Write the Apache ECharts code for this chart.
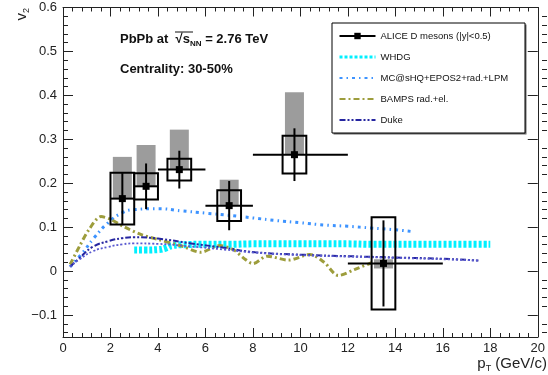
<!DOCTYPE html>
<html><head><meta charset="utf-8">
<script src="https://cdn.jsdelivr.net/npm/echarts@6/dist/echarts.min.js"></script>
<style>html,body{margin:0;padding:0;background:#fff}#c{width:548px;height:375px}</style>
</head><body><div id="c"></div>
<script>
// ---------- data ----------
const ptCenter = [2.5, 3.5, 4.9, 7.0, 9.75, 13.5];
const ptLow    = [2, 3, 4, 6, 8, 12];
const ptHigh   = [3, 4, 6, 8, 12, 16];
const v2       = [0.165, 0.193, 0.231, 0.149, 0.265, 0.0175];
const statErr  = [0.058, 0.052, 0.043, 0.056, 0.060, 0.098];
const sysErr   = [0.059, 0.030, 0.025, 0.035, 0.043, 0.105];
const feedLow  = [0.165, 0.193, 0.231, 0.149, 0.265, 0.006];
const feedHigh = [0.260, 0.287, 0.322, 0.208, 0.407, 0.027];

const whdgPt = [3.0, 3.5, 4.0, 4.3, 4.6, 5.0, 6, 7, 8, 9, 10, 11, 12, 13, 14, 15, 16, 17, 18];
const whdgV2 = [0.048, 0.048, 0.049, 0.052, 0.058, 0.060, 0.061, 0.061, 0.062, 0.062, 0.062, 0.062, 0.062, 0.061, 0.061, 0.061, 0.061, 0.061, 0.061];

const mcPt = [0.3, 0.8, 1.3, 1.9, 2.5, 3.0, 4.0, 5.0, 6.0, 7.0, 8.0, 9.0, 10.0, 11.0, 12.0, 13.0, 14.0, 14.7];
const mcV2 = [0.010, 0.040, 0.075, 0.110, 0.133, 0.140, 0.142, 0.137, 0.132, 0.127, 0.121, 0.115, 0.110, 0.105, 0.102, 0.098, 0.094, 0.090];

const bampsPt = [0.3, 0.7, 1.1, 1.6, 2.0, 2.6, 3.3, 4.0, 5.0, 5.8, 6.6, 7.2, 7.6, 8.0, 8.6, 9.5, 10.4, 11.0, 11.6, 12.3, 13.0];
const bampsV2 = [0.015, 0.057, 0.095, 0.124, 0.118, 0.100, 0.083, 0.072, 0.057, 0.043, 0.058, 0.048, 0.030, 0.017, 0.034, 0.025, 0.038, 0.020, -0.010, 0.004, 0.019];

const dukePt  = [0.3, 0.7, 1.25, 1.9, 2.5, 3.0, 4.0, 5.4, 6.8, 8.1, 10.2, 12.0, 14.0, 16.0, 17.5];
const dukeV2a = [0.010, 0.030, 0.055, 0.068, 0.075, 0.077, 0.074, 0.063, 0.053, 0.043, 0.037, 0.034, 0.031, 0.028, 0.024];
const dukeV2b = [0.010, 0.027, 0.045, 0.055, 0.061, 0.063, 0.062, 0.056, 0.049, 0.042, 0.036, 0.033, 0.030, 0.027, 0.024];

const xTickLabels = [0, 2, 4, 6, 8, 10, 12, 14, 16, 18, 20];
const yTickLabels = [-0.1, 0, 0.1, 0.2, 0.3, 0.4, 0.5, 0.6];
const yMinorTicks = [];
for (let k = -14; k <= 58; k += 2) { if (k % 10 !== 0) yMinorTicks.push(k / 100); }

const legendNames = ['ALICE D mesons (|y|<0.5)', 'WHDG', 'MC@sHQ+EPOS2+rad.+LPM', 'BAMPS rad.+el.', 'Duke'];

// ---------- chart ----------
const FONT = '"Liberation Sans", Arial, Helvetica, sans-serif';
const zip = (a, b) => a.map((x, i) => [x, b[i]]);
const D = ptCenter.map((x, i) => [x, v2[i], ptLow[i], ptHigh[i], statErr[i], sysErr[i], feedLow[i], feedHigh[i]]);

function feedItem(params, api) {
  const x = api.value(0);
  const a = api.coord([x - 0.4, api.value(7)]);
  const b = api.coord([x + 0.4, api.value(6)]);
  return { type: 'rect', shape: { x: a[0], y: a[1], width: b[0] - a[0], height: b[1] - a[1] }, style: { fill: '#9c9c9c' } };
}
function sysItem(params, api) {
  const x = api.value(0), y = api.value(1), s = api.value(5);
  const a = api.coord([x - 0.5, y + s]);
  const b = api.coord([x + 0.5, y - s]);
  return { type: 'rect', shape: { x: a[0], y: a[1], width: b[0] - a[0], height: b[1] - a[1] }, style: { fill: 'none', stroke: '#000', lineWidth: 2 } };
}
function errItem(params, api) {
  const x = api.value(0), y = api.value(1), e = api.value(4);
  const l = api.coord([api.value(2), y]), r = api.coord([api.value(3), y]);
  const t = api.coord([x, y + e]), bt = api.coord([x, y - e]);
  return { type: 'group', children: [
    { type: 'line', shape: { x1: l[0], y1: l[1], x2: r[0], y2: r[1] }, style: { stroke: '#000', lineWidth: 2 } },
    { type: 'line', shape: { x1: t[0], y1: t[1], x2: bt[0], y2: bt[1] }, style: { stroke: '#000', lineWidth: 2 } }
  ] };
}

const axisLineStyle = { color: '#222', width: 1 };
const labelStyle = { fontFamily: FONT, fontSize: 13, color: '#222' };
const fmtY = v => (Math.abs(v) < 1e-9 ? '0' : (v < 0 ? '\u2212' + (+(-v).toFixed(2)) : String(+v.toFixed(2))));
const gridRect = { left: 63, right: 1, top: 7.5, bottom: 38 };

function yAx(gridIndex, position, values, len, withLine, withLabel) {
  return { type: 'value', gridIndex, min: -0.15, max: 0.6, position,
    axisLine: { show: withLine, onZero: false, lineStyle: axisLineStyle },
    axisTick: { show: true, inside: true, length: len, lineStyle: axisLineStyle, customValues: values },
    axisLabel: withLabel ? { ...labelStyle, margin: 6, customValues: values, formatter: fmtY } : { show: false, customValues: values },
    splitLine: { show: false } };
}

const chart = echarts.init(document.getElementById('c'), null, { renderer: 'canvas', width: 548, height: 375 });
chart.setOption({
  animation: false,
  backgroundColor: '#fff',
  grid: [ { ...gridRect }, { ...gridRect } ],
  xAxis: [
    { type: 'value', gridIndex: 0, min: 0, max: 20, interval: 2, position: 'bottom',
      axisLine: { show: true, onZero: false, lineStyle: axisLineStyle },
      axisTick: { show: true, inside: true, length: 9, lineStyle: axisLineStyle },
      minorTick: { show: true, splitNumber: 5, length: 4, lineStyle: axisLineStyle },
      axisLabel: { ...labelStyle, margin: 5, customValues: xTickLabels, formatter: v => String(v) },
      splitLine: { show: false } },
    { type: 'value', gridIndex: 0, min: 0, max: 20, interval: 2, position: 'top',
      axisLine: { show: true, onZero: false, lineStyle: axisLineStyle },
      axisTick: { show: true, inside: true, length: 9, lineStyle: axisLineStyle },
      minorTick: { show: true, splitNumber: 5, length: 4, lineStyle: axisLineStyle },
      axisLabel: { show: false }, splitLine: { show: false } },
    { type: 'value', gridIndex: 1, min: 0, max: 20, show: false }
  ],
  yAxis: [
    yAx(0, 'left', yTickLabels, 10, true, true),
    yAx(0, 'right', yTickLabels, 10, true, false),
    yAx(1, 'left', yMinorTicks, 5, false, false),
    yAx(1, 'right', yMinorTicks, 5, false, false)
  ],
  legend: {
    data: [
      { name: legendNames[0], lineStyle: { opacity: 1, width: 2, color: '#000' } },
      { name: legendNames[1], lineStyle: { width: 3 }, itemStyle: { opacity: 0 } },
      { name: legendNames[2], itemStyle: { opacity: 0 } },
      { name: legendNames[3], itemStyle: { opacity: 0 } },
      { name: legendNames[4], itemStyle: { opacity: 0 } }
    ],
    orient: 'vertical', left: 338, top: 31, itemWidth: 36, itemHeight: 8, itemGap: 11, padding: 0,
    selectedMode: false,
    textStyle: { fontFamily: FONT, fontSize: 9.5, color: '#111' }
  },
  series: [
    { name: 'feed', type: 'custom', renderItem: feedItem, data: D, z: 1, encode: { x: 0, y: 1 }, silent: true },
    { name: legendNames[1], type: 'line', data: zip(whdgPt, whdgV2), symbol: 'none', smooth: true, z: 2,
      lineStyle: { color: '#00f0ff', width: 7, type: [3, 2] }, itemStyle: { color: '#00f0ff' } },
    { name: legendNames[2], type: 'line', data: zip(mcPt, mcV2), symbol: 'none', smooth: true, z: 2,
      lineStyle: { color: '#3d93ff', width: 3, type: [3, 4, 1.5, 4] }, itemStyle: { color: '#3d93ff' } },
    { name: legendNames[3], type: 'line', data: zip(bampsPt, bampsV2), symbol: 'none', smooth: 0.3, z: 2,
      lineStyle: { color: '#9d9d3c', width: 3, type: [6, 3, 2, 3] }, itemStyle: { color: '#9d9d3c' } },
    { name: legendNames[4], type: 'line', data: zip(dukePt, dukeV2a), symbol: 'none', smooth: true, z: 2,
      lineStyle: { color: '#2626a0', width: 2, type: [6, 2, 2, 2, 2, 2] }, itemStyle: { color: '#2626a0' } },
    { name: 'Duke2', type: 'line', data: zip(dukePt, dukeV2b), symbol: 'none', smooth: true, z: 2,
      lineStyle: { color: '#5a5ad0', width: 1.8, type: [2, 2] }, itemStyle: { color: '#5a5ad0' } },
    { name: 'sys', type: 'custom', renderItem: sysItem, data: D, z: 3, encode: { x: 0, y: 1 }, silent: true },
    { name: 'err', type: 'custom', renderItem: errItem, data: D, z: 4, encode: { x: 0, y: 1 }, silent: true },
    { name: legendNames[0], type: 'line', data: zip(ptCenter, v2), z: 5, symbol: 'rect', symbolSize: 7,
      lineStyle: { width: 2, color: '#000', opacity: 0 }, itemStyle: { color: '#000' } }
  ],
  graphic: [
    { type: 'rect', shape: { x: 333.5, y: 24.5, width: 193, height: 110 }, style: { fill: '#666' }, z: 0 },
    { type: 'rect', shape: { x: 332, y: 23, width: 193, height: 110 }, style: { fill: '#fff', stroke: '#000', lineWidth: 1 }, z: 0 },
    { type: 'text', x: 120, y: 39, z: 10, style: {
        text: '{a|PbPb at  \u221A}{a|s}{s|NN}{a| = 2.76 TeV}', verticalAlign: 'middle',
        rich: { a: { fontFamily: FONT, fontWeight: 'bold', fontSize: 13, lineHeight: 16, fill: '#111' },
                s: { fontFamily: FONT, fontWeight: 'bold', fontSize: 8, padding: [9, 0, 0, 0], fill: '#111' } } } },
    { type: 'line', shape: { x1: 175, y1: 32, x2: 193, y2: 32 }, style: { stroke: '#111', lineWidth: 1 }, z: 10 },
    { type: 'text', x: 120, y: 69, z: 10, style: { text: 'Centrality: 30-50%', verticalAlign: 'middle',
        fontFamily: FONT, fontWeight: 'bold', fontSize: 13, fill: '#111' } },
    { type: 'text', x: 547, y: 364, z: 10, style: {
        text: '{a|p}{s|T}{a| (GeV/c)}', align: 'right', verticalAlign: 'middle',
        rich: { a: { fontFamily: FONT, fontSize: 15, lineHeight: 18, fill: '#222' },
                s: { fontFamily: FONT, fontSize: 9, padding: [10, 0, 0, 0], fill: '#222' } } } },
    { type: 'text', x: 22, y: 8, rotation: Math.PI / 2, z: 10, style: {
        text: '{a|v}{s|2}', align: 'right', verticalAlign: 'middle',
        rich: { a: { fontFamily: FONT, fontSize: 15, lineHeight: 18, fill: '#222' },
                s: { fontFamily: FONT, fontSize: 9, padding: [10, 0, 0, 0], fill: '#222' } } } }
  ]
});
</script>
</body></html>
